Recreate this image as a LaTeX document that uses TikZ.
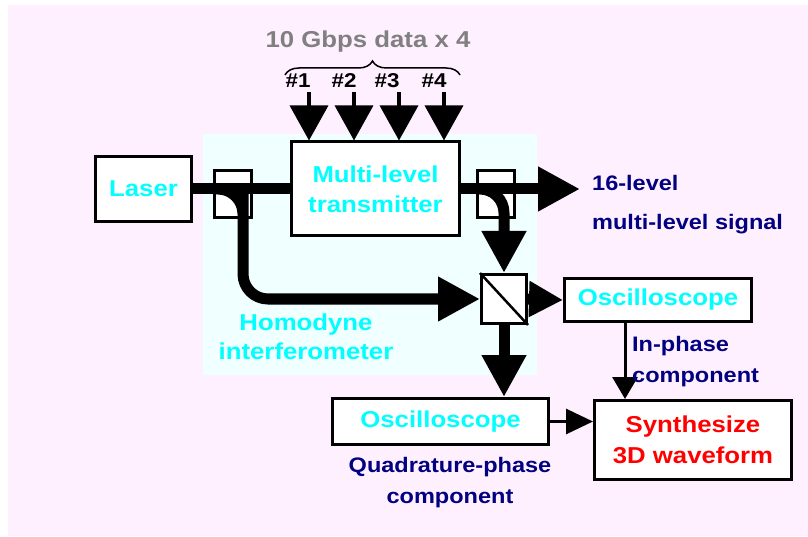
\documentclass[tikz,border=0pt]{standalone}
\usepackage{fontspec}
\setmainfont{Liberation Sans}[FakeStretch=1.12]
\usetikzlibrary{arrows.meta,positioning,calc,decorations.pathreplacing}
\definecolor{bgpink}{RGB}{255,240,255}
\definecolor{zonecyan}{RGB}{240,255,255}
\definecolor{labcyan}{RGB}{0,255,255}
\definecolor{labnavy}{RGB}{0,0,128}
\definecolor{labgray}{RGB}{128,128,128}

\begin{document}
\begin{tikzpicture}[x=1pt, y=1pt,
    box/.style={rectangle, draw, line width=3pt, fill=white, inner sep=0pt, text=labcyan, align=center, font=\bfseries\fontsize{23}{30}\selectfont},
    port/.style={rectangle, draw, line width=3pt, fill=white, minimum width=37pt, minimum height=47pt},
    fiber/.style={line width=11pt},
    bigtip/.style={-{Triangle[length=42pt, width=42pt]}},
    data/.style={line width=3.5pt, -{Triangle[length=35pt, width=38pt]}},
    wire/.style={line width=3pt},
    navylbl/.style={text=labnavy, inner sep=0pt, font=\bfseries\fontsize{21}{26}\selectfont},
    cyanlbl/.style={text=labcyan, inner sep=0pt, align=center, font=\bfseries\fontsize{23}{29}\selectfont}
]
    \useasboundingbox (0,0) rectangle (808,536);
    \fill[bgpink] (8,0) rectangle (808,531);
    \fill[zonecyan] (203,161) rectangle (537,402);

    % Boxes
    \node[box, minimum width=96pt, minimum height=65pt] (laser) at (143.5,347) {Laser};
    \node[port] (cp1) at (233,342) {};
    \node[box, minimum width=168pt, minimum height=94pt] (mlt) at (375.5,347) {Multi-level\\transmitter};
    \node[port] (cp2) at (496,342) {};
    \node[rectangle, draw, line width=3pt, fill=white, minimum width=45pt, minimum height=49pt] (split) at (504,237) {};
    \draw[line width=2.5pt] (split.north west) -- (split.south east);
    \node[box, minimum width=187pt, minimum height=43pt] (osc1) at (658,236) {Oscilloscope};
    \node[box, minimum width=216pt, minimum height=46pt] (osc2) at (440.5,114.5) {Oscilloscope};
    \node[box, text=red, minimum width=197pt, minimum height=79pt, font=\bfseries\fontsize{23}{31}\selectfont] (synth) at (693,96) {Synthesize\\3D waveform};

    % Data inputs
    \node[text=labgray, inner sep=0pt, font=\bfseries\fontsize{23}{28}\selectfont] (rate) at (368,494) {10 Gbps data x 4};
    \coordinate (bl) at (285,461);
    \coordinate (br) at (460,461);
    \draw[line width=1.5pt, decorate, decoration={brace, amplitude=14pt}] (bl) -- (br);
    \foreach \n/\x/\lx in {1/309/298, 2/354/344, 3/399/387, 4/444/434} {
        \node[inner sep=0pt, font=\bfseries\fontsize{20}{24}\selectfont] (ch\n) at (\lx,455) {\#\n};
        \coordinate (s\n) at (\x,444);
        \draw[data] (s\n) -- (s\n |- mlt.north);
    }

    % Fibres
    \draw[fiber] (laser) -- (mlt);
    \coordinate (out) at (580,347);
    \draw[fiber, bigtip] (mlt.east) -- (out);
    \draw[fiber, bigtip, rounded corners=24pt] (cp2.west |- mlt.east) -| (split.north);
    \draw[fiber, bigtip, rounded corners=25pt] (cp1.west |- laser.east) -| ([xshift=10pt]cp1.south) |- (split.west);
    \draw[fiber, -{Triangle[length=34pt, width=34pt]}] (split.east) -- (osc1.west);
    \draw[fiber, bigtip] (split.south) -- (split.south |- osc2.north);

    % Electrical
    \draw[wire, -{Triangle[length=27pt, width=25pt]}] (osc2.east) -- (synth.west |- osc2.east);
    \coordinate (ip) at ([xshift=-33pt]osc1.south);
    \draw[wire, -{Triangle[length=22pt, width=25pt]}] (ip) -- (ip |- synth.north);

    % Labels
    \node[navylbl, anchor=west] (sig1) at (592,353) {16-level};
    \node[navylbl, anchor=west] (sig2) at (592,312) {multi-level signal};
    \node[cyanlbl] (homo) at (306,199) {Homodyne\\interferometer};
    \node[navylbl, anchor=west] (ph1) at (632,190) {In-phase};
    \node[navylbl, anchor=west] (ph2) at (632,158) {component};
    \node[navylbl] (qu1) at (450,69) {Quadrature-phase};
    \node[navylbl] (qu2) at (450,37) {component};
\end{tikzpicture}
\end{document}
